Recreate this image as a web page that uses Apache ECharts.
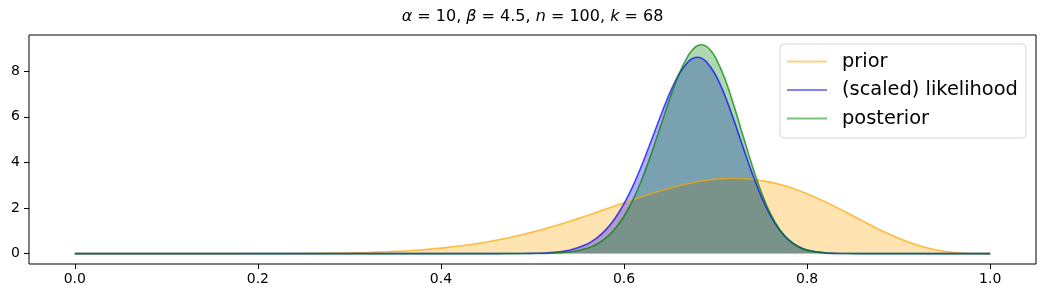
<!DOCTYPE html>
<html>
<head>
<meta charset="utf-8">
<script src="https://cdn.jsdelivr.net/npm/echarts@6/dist/echarts.min.js"></script>
<style>
html,body{margin:0;padding:0;background:#fff;}
#chart{width:1046px;height:299px;}
</style>
</head>
<body>
<div id="chart"></div>
<script>
// ---- data ----
const seriesNames = ['prior', '(scaled) likelihood', 'posterior'];
const xTicks = [0, 0.2, 0.4, 0.6, 0.8, 1.0];
const yTicks = [0, 2, 4, 6, 8];

const priorX = [0,0.02,0.04,0.06,0.08,0.10,0.12,0.14,0.16,0.18,0.20,0.22,0.24,0.26,0.28,0.30,0.32,0.34,0.36,0.38,0.40,0.42,0.44,0.46,0.48,0.50,0.52,0.54,0.56,0.58,0.60,0.62,0.64,0.66,0.68,0.70,0.72,0.74,0.76,0.78,0.80,0.82,0.84,0.86,0.88,0.90,0.92,0.94,0.96,0.98,1.00];
const prior  = [0,0,0,0,0,0,0,0.00005,0.0002,0.0005,0.0013,0.0028,0.0055,0.0104,0.0183,0.0309,0.0499,0.0776,0.1165,0.1696,0.2399,0.3306,0.4444,0.5838,0.7503,0.9445,1.1653,1.4101,1.6743,1.9511,2.2316,2.5052,2.7589,2.9794,3.1526,3.2649,3.3045,3.2625,3.1342,2.9200,2.6271,2.2690,1.8662,1.4454,1.0364,0.6703,0.3741,0.1658,0.0485,0.0052,0];

const likX = [0,0.20,0.40,0.44,0.46,0.48,0.50,0.52,0.54,0.56,0.57,0.58,0.59,0.60,0.61,0.62,0.63,0.64,0.65,0.66,0.67,0.675,0.68,0.685,0.69,0.70,0.71,0.72,0.73,0.74,0.75,0.76,0.77,0.78,0.79,0.80,0.82,0.84,0.86,0.90,0.95,1.00];
const likelihood = [0,0,0,0.0001,0.0005,0.0025,0.0114,0.0444,0.1481,0.4236,0.6763,1.0394,1.5371,2.1871,2.9935,3.9388,4.9812,6.0485,7.0462,7.8705,8.4179,8.5627,8.6120,8.5624,8.4138,7.8383,6.9500,5.8531,4.6698,3.5202,2.5000,1.6663,1.0383,0.6021,0.3231,0.1595,0.0294,0.0035,0.0003,0,0,0];

const postX = [0,0.20,0.40,0.44,0.46,0.48,0.50,0.52,0.54,0.56,0.57,0.58,0.59,0.60,0.61,0.62,0.63,0.64,0.65,0.66,0.67,0.675,0.68,0.685,0.69,0.695,0.70,0.71,0.72,0.73,0.74,0.75,0.76,0.77,0.78,0.79,0.80,0.82,0.84,0.86,0.90,0.95,1.00];
const posterior = [0,0,0,0,0.0001,0.0006,0.0036,0.0174,0.0701,0.2381,0.4114,0.6808,1.0793,1.6387,2.3819,3.3128,4.4068,5.6024,6.7992,7.8726,8.6841,8.9530,9.1153,9.1607,9.0874,8.8966,8.5918,7.6871,6.4927,5.1645,3.8557,2.6935,1.7533,1.0589,0.5902,0.3019,0.1407,0.0224,0.0022,0.0001,0,0,0];

// ---- styling ----
const FONT = 'DejaVu Sans';
const baseRGB = ['255,165,0', '0,0,255', '0,128,0'];

function pairs(xs, ys){ return xs.map((x,i)=>[x, ys[i]]); }
const allData = [pairs(priorX, prior), pairs(likX, likelihood), pairs(postX, posterior)];

const chart = echarts.init(document.getElementById('chart'), null, {renderer:'canvas'});
chart.setOption({
  animation: false,
  backgroundColor: '#fff',
  textStyle: {fontFamily: FONT},
  title: {
    left: 532.5, top: 9, textAlign: 'center', padding: 0,
    text: '{i|α} = 10, {i|β} = 4.5, {i|n} = 100, {i|k} = 68',
    textStyle: {
      fontFamily: FONT, fontSize: 16, fontWeight: 'normal', color: '#000',
      rich: { i: {fontFamily: FONT, fontSize: 16, fontStyle: 'italic', color: '#000'} }
    }
  },
  grid: {left: 29, right: 10, top: 35, bottom: 35, show: true, borderColor: '#000', borderWidth: 1, backgroundColor: 'transparent'},
  legend: {
    orient: 'vertical', left: 780, top: 44,
    padding: [8, 8, 10, 7],
    backgroundColor: 'rgba(255,255,255,0.8)', borderColor: '#d6d6d6', borderWidth: 1, borderRadius: 4,
    itemWidth: 40, itemHeight: 2, itemGap: 9.5, icon: 'rect',
    textStyle: {fontFamily: FONT, fontSize: 19.4, color: '#000', lineHeight: 18, padding: [0,0,0,10]},
    data: seriesNames.map((n,i)=>({name: n, itemStyle: {color: 'rgba(' + baseRGB[i] + ',0.5)', opacity: 1}}))
  },
  xAxis: {
    type: 'value', min: -0.05, max: 1.05,
    splitLine: {show: false},
    axisLine: {show: false, onZero: false},
    axisTick: {show: true, length: 5, lineStyle: {color: '#000', width: 1}, customValues: xTicks},
    axisLabel: {color: '#000', fontSize: 14, fontFamily: FONT, margin: 8, customValues: xTicks,
      formatter: v => v.toFixed(1)}
  },
  yAxis: {
    type: 'value', min: -0.4565, max: 9.587,
    splitLine: {show: false},
    axisLine: {show: false, onZero: false},
    axisTick: {show: true, length: 5, lineStyle: {color: '#000', width: 1}, customValues: yTicks},
    axisLabel: {color: '#000', fontSize: 14, fontFamily: FONT, margin: 9, customValues: yTicks,
      formatter: v => String(v)}
  },
  series: seriesNames.map((n,i)=>({
    name: n, type: 'line', data: allData[i],
    showSymbol: false, symbol: 'none', smooth: 0.3,
    itemStyle: {color: 'rgba(' + baseRGB[i] + ',0.5)'},
    lineStyle: {color: 'rgba(' + baseRGB[i] + ',0.7)', width: 1.6},
    areaStyle: {color: 'rgba(' + baseRGB[i] + ',0.31)', opacity: 1, origin: 0}
  }))
});
</script>
</body>
</html>
